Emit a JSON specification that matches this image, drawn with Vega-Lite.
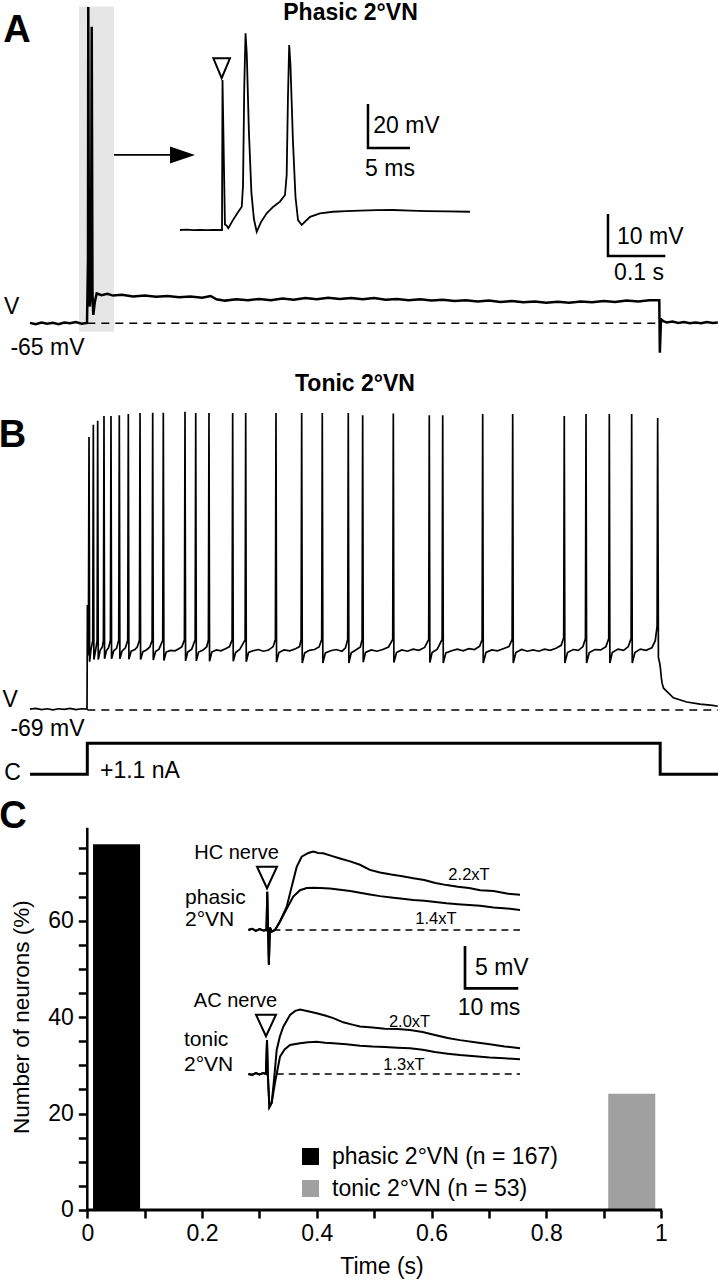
{
  "$schema": "https://vega.github.io/schema/vega-lite/v6.json",
  "width": 718,
  "height": 1280,
  "padding": 0,
  "autosize": {"type": "none"},
  "background": "white",
  "config": {"view": {"stroke": null}, "font": "Liberation Sans"},
  "resolve": {"scale": {"x": "independent", "y": "independent"}, "axis": {"x": "independent", "y": "independent"}},
  "datasets": {
    "aRect": [{"t": -0.0145, "t2": 0.0465, "v": -67.0, "v2": 10.4}],
    "aDash": [{"t": 0, "t2": 0.997, "v": -65}],
    "aTrace": [
      {"t": -0.0999, "v": -64.9}, {"t": -0.09, "v": -65.2}, {"t": -0.08, "v": -64.8}, {"t": -0.07, "v": -65.1}, {"t": -0.06, "v": -64.9}, {"t": -0.05, "v": -65.2}, {"t": -0.04, "v": -64.8}, {"t": -0.03, "v": -65.0}, {"t": -0.02, "v": -64.7}, {"t": -0.01, "v": -65.1}, {"t": -0.0005, "v": -64.9},
      {"t": 0.0003, "v": -58}, {"t": 0.0012, "v": -50}, {"t": 0.0017, "v": 10.3}, {"t": 0.003, "v": -59.5}, {"t": 0.0045, "v": -61.0}, {"t": 0.0065, "v": -56}, {"t": 0.0077, "v": 5.6}, {"t": 0.009, "v": -58}, {"t": 0.0105, "v": -63.0}, {"t": 0.013, "v": -60}, {"t": 0.0164, "v": -57.9},
      {"t": 0.025, "v": -58.3}, {"t": 0.035, "v": -58.0}, {"t": 0.045, "v": -58.4}, {"t": 0.06, "v": -58.2}, {"t": 0.08, "v": -58.6}, {"t": 0.1, "v": -58.4}, {"t": 0.12, "v": -58.7}, {"t": 0.14, "v": -58.5}, {"t": 0.16, "v": -58.8}, {"t": 0.18, "v": -58.6}, {"t": 0.2, "v": -58.9}, {"t": 0.215, "v": -58.5}, {"t": 0.225, "v": -59.3}, {"t": 0.24, "v": -59.6}, {"t": 0.26, "v": -59.3}, {"t": 0.28, "v": -59.5}, {"t": 0.3, "v": -59.2}, {"t": 0.32, "v": -59.5}, {"t": 0.34, "v": -59.1}, {"t": 0.36, "v": -59.4}, {"t": 0.38, "v": -59.0}, {"t": 0.4, "v": -59.3}, {"t": 0.42, "v": -58.9}, {"t": 0.44, "v": -59.2}, {"t": 0.46, "v": -59.0}, {"t": 0.48, "v": -59.3}, {"t": 0.5, "v": -59.0}, {"t": 0.52, "v": -59.4}, {"t": 0.54, "v": -59.2}, {"t": 0.56, "v": -59.5}, {"t": 0.58, "v": -59.3}, {"t": 0.6, "v": -59.6}, {"t": 0.62, "v": -59.4}, {"t": 0.64, "v": -59.7}, {"t": 0.66, "v": -59.5}, {"t": 0.68, "v": -59.8}, {"t": 0.7, "v": -59.6}, {"t": 0.72, "v": -59.9}, {"t": 0.74, "v": -59.7}, {"t": 0.76, "v": -60.0}, {"t": 0.78, "v": -59.8}, {"t": 0.8, "v": -60.1}, {"t": 0.82, "v": -59.9}, {"t": 0.84, "v": -60.1}, {"t": 0.86, "v": -59.8}, {"t": 0.88, "v": -60.0}, {"t": 0.9, "v": -59.7}, {"t": 0.92, "v": -59.9}, {"t": 0.94, "v": -59.6}, {"t": 0.96, "v": -59.8}, {"t": 0.98, "v": -59.5}, {"t": 0.997, "v": -59.5},
      {"t": 0.998, "v": -72.0}, {"t": 1.0, "v": -64.0}, {"t": 1.004, "v": -64.5}, {"t": 1.01, "v": -64.8}, {"t": 1.02, "v": -64.6}, {"t": 1.03, "v": -64.9}, {"t": 1.04, "v": -64.7}, {"t": 1.05, "v": -65.0}, {"t": 1.06, "v": -64.8}, {"t": 1.07, "v": -65.0}, {"t": 1.08, "v": -64.7}, {"t": 1.09, "v": -64.9}, {"t": 1.099, "v": -64.8}
    ],
    "aArrow": [{"t": 0.0465, "t2": 0.152, "v": -24.9}],
    "aHead": [{"t": 0.1659, "v": -24.9}],
    "aBar": [{"t": 0.9076, "v": -38.98}, {"t": 0.9076, "v": -48.98}, {"t": 1.0076, "v": -48.98}],
    "aTitle": [{"t": 0.4588, "v": 8.9, "label": "Phasic 2°VN"}],
    "aLetter": [{"t": -0.1225, "v": 4.5, "label": "A"}],
    "aTextC": [{"t": -0.1318, "v": -61.1, "label": "V"}, {"t": -0.0694, "v": -70.8, "label": "-65 mV"}, {"t": 0.9617, "v": -53.1, "label": "0.1 s"}],
    "aTextL": [{"t": 0.9233, "v": -44.4, "label": "10 mV"}],
    "aiTrace": [
      {"t": -5.0, "v": -65.0}, {"t": -4.2, "v": -64.8}, {"t": -3.4, "v": -65.1}, {"t": -2.6, "v": -64.9}, {"t": -1.8, "v": -65.1}, {"t": -1.0, "v": -64.9}, {"t": -0.3, "v": -65.0}, {"t": 0.0, "v": -65.0},
      {"t": 0.06, "v": 3.2}, {"t": 0.35, "v": -62.5}, {"t": 0.56, "v": -63.0}, {"t": 0.75, "v": -64.2}, {"t": 1.3, "v": -60.5}, {"t": 1.94, "v": -56.7}, {"t": 2.35, "v": -54.4},
      {"t": 2.5, "v": -45}, {"t": 2.65, "v": 0}, {"t": 2.8, "v": 24.4}, {"t": 2.95, "v": 15}, {"t": 3.2, "v": -20}, {"t": 3.5, "v": -48}, {"t": 3.8, "v": -60}, {"t": 4.13, "v": -65.8},
      {"t": 4.64, "v": -61.4}, {"t": 5.32, "v": -57.4}, {"t": 6.11, "v": -54.4}, {"t": 6.9, "v": -52.1}, {"t": 7.5, "v": -49.1},
      {"t": 7.7, "v": -40}, {"t": 7.85, "v": -5}, {"t": 8.0, "v": 19.1}, {"t": 8.15, "v": 10}, {"t": 8.45, "v": -25}, {"t": 8.75, "v": -50}, {"t": 9.05, "v": -60.5}, {"t": 9.49, "v": -62.7},
      {"t": 10.48, "v": -59.0}, {"t": 11.67, "v": -57.4}, {"t": 13.21, "v": -56.7}, {"t": 14.8, "v": -56.4}, {"t": 16.43, "v": -56.2}, {"t": 18.4, "v": -56.0}, {"t": 20.36, "v": -55.9}, {"t": 22.4, "v": -56.2}, {"t": 24.4, "v": -56.4}, {"t": 26.9, "v": -56.5}, {"t": 29.52, "v": -56.7}
    ],
    "aiTri": [{"t": -0.04, "v": 8.5}],
    "aiBar": [{"t": 17.38, "v": -7.7}, {"t": 17.38, "v": -27.7}, {"t": 22.38, "v": -27.7}],
    "aiTextL": [{"t": 18.0, "v": -17.7, "label": "20 mV"}],
    "aiTextC": [{"t": 20.0, "v": -37.05, "label": "5 ms"}],
    "bDash": [{"t": 0, "t2": 1.0993, "v": -69}],
    "bTrace": [
      {"t": -0.0999, "v": -68.8}, {"t": -0.09, "v": -68.6}, {"t": -0.08, "v": -68.9}, {"t": -0.07, "v": -68.7}, {"t": -0.06, "v": -68.95}, {"t": -0.05, "v": -68.7}, {"t": -0.04, "v": -68.85}, {"t": -0.03, "v": -68.6}, {"t": -0.02, "v": -68.9}, {"t": -0.01, "v": -68.7}, {"t": -0.0005, "v": -68.8},
      {"t": 0.0002, "v": -44}, {"t": 0.001, "v": -56}, {"t": 0.002, "v": -50}, {"t": 0.003, "v": -4.0}, {"t": 0.004, "v": -57.5}, {"t": 0.0065, "v": -54.5}, {"t": 0.0095, "v": -52.5}, {"t": 0.0105, "v": -1.1}, {"t": 0.0115, "v": -57.0}, {"t": 0.0145, "v": -54.8}, {"t": 0.0171, "v": -52.5}, {"t": 0.0181, "v": -0.1}, {"t": 0.0191, "v": -57.0}, {"t": 0.0225, "v": -54.8}, {"t": 0.0262, "v": -54.0}, {"t": 0.0281, "v": -52.4}, {"t": 0.0291, "v": 1.0}, {"t": 0.0301, "v": -56.8}, {"t": 0.0335, "v": -54.8}, {"t": 0.037, "v": -54.2}, {"t": 0.0403, "v": -52.4}, {"t": 0.0413, "v": 1.0}, {"t": 0.0423, "v": -56.8}, {"t": 0.046, "v": -54.9}, {"t": 0.051, "v": -54.3}, {"t": 0.0548, "v": -52.4}, {"t": 0.0558, "v": 1.2}, {"t": 0.0568, "v": -56.8}, {"t": 0.0605, "v": -55.0}, {"t": 0.0665, "v": -54.2}, {"t": 0.0705, "v": -52.4}, {"t": 0.0715, "v": 1.5}, {"t": 0.0725, "v": -56.9}, {"t": 0.0765, "v": -55.0}, {"t": 0.083, "v": -54.6}, {"t": 0.087, "v": -54.0}, {"t": 0.0909, "v": -52.4}, {"t": 0.0919, "v": 1.7}, {"t": 0.0929, "v": -57.0}, {"t": 0.097, "v": -55.1}, {"t": 0.103, "v": -54.7}, {"t": 0.109, "v": -54.0}, {"t": 0.113, "v": -52.4}, {"t": 0.114, "v": 1.8}, {"t": 0.115, "v": -57.1}, {"t": 0.119, "v": -55.1}, {"t": 0.125, "v": -54.5}, {"t": 0.1315, "v": -52.4}, {"t": 0.1325, "v": 1.8}, {"t": 0.1335, "v": -57.2}, {"t": 0.1375, "v": -55.2}, {"t": 0.145, "v": -54.8}, {"t": 0.153, "v": -54.9}, {"t": 0.161, "v": -54.3}, {"t": 0.165, "v": -53.9}, {"t": 0.1693, "v": -52.3}, {"t": 0.1703, "v": 2.0}, {"t": 0.1713, "v": -57.3}, {"t": 0.175, "v": -55.2}, {"t": 0.182, "v": -54.5}, {"t": 0.188, "v": -52.3}, {"t": 0.189, "v": 1.7}, {"t": 0.19, "v": -57.3}, {"t": 0.194, "v": -55.2}, {"t": 0.201, "v": -54.8}, {"t": 0.208, "v": -54.0}, {"t": 0.2111, "v": -52.3}, {"t": 0.2121, "v": 1.7}, {"t": 0.2131, "v": -57.4}, {"t": 0.217, "v": -55.2}, {"t": 0.225, "v": -54.7}, {"t": 0.233, "v": -54.9}, {"t": 0.241, "v": -54.4}, {"t": 0.248, "v": -53.9}, {"t": 0.2524, "v": -52.3}, {"t": 0.2534, "v": 1.7}, {"t": 0.2544, "v": -57.4}, {"t": 0.2585, "v": -55.3}, {"t": 0.266, "v": -54.5}, {"t": 0.2751, "v": -52.3}, {"t": 0.2761, "v": 1.7}, {"t": 0.2771, "v": -57.5}, {"t": 0.281, "v": -55.3}, {"t": 0.289, "v": -54.9}, {"t": 0.298, "v": -54.6}, {"t": 0.307, "v": -55.0}, {"t": 0.316, "v": -54.7}, {"t": 0.324, "v": -53.9}, {"t": 0.3279, "v": -52.2}, {"t": 0.3289, "v": 1.7}, {"t": 0.3299, "v": -57.6}, {"t": 0.334, "v": -55.3}, {"t": 0.343, "v": -54.7}, {"t": 0.353, "v": -54.9}, {"t": 0.363, "v": -54.4}, {"t": 0.37, "v": -53.9}, {"t": 0.3727, "v": -52.2}, {"t": 0.3737, "v": 1.7}, {"t": 0.3747, "v": -57.8}, {"t": 0.379, "v": -55.4}, {"t": 0.387, "v": -54.8}, {"t": 0.396, "v": -54.6}, {"t": 0.404, "v": -54.0}, {"t": 0.4086, "v": -52.2}, {"t": 0.4096, "v": 1.7}, {"t": 0.4106, "v": -57.8}, {"t": 0.415, "v": -55.4}, {"t": 0.424, "v": -54.9}, {"t": 0.434, "v": -54.6}, {"t": 0.444, "v": -55.0}, {"t": 0.45, "v": -54.2}, {"t": 0.4539, "v": -52.2}, {"t": 0.4549, "v": 1.7}, {"t": 0.4559, "v": -57.8}, {"t": 0.46, "v": -55.4}, {"t": 0.468, "v": -54.7}, {"t": 0.476, "v": -54.0}, {"t": 0.479, "v": -52.2}, {"t": 0.48, "v": 1.2}, {"t": 0.481, "v": -57.6}, {"t": 0.485, "v": -55.3}, {"t": 0.495, "v": -54.7}, {"t": 0.505, "v": -55.0}, {"t": 0.515, "v": -54.6}, {"t": 0.525, "v": -54.0}, {"t": 0.5324, "v": -52.2}, {"t": 0.5334, "v": 1.6}, {"t": 0.5344, "v": -57.7}, {"t": 0.539, "v": -55.3}, {"t": 0.548, "v": -54.7}, {"t": 0.558, "v": -55.0}, {"t": 0.568, "v": -54.5}, {"t": 0.578, "v": -54.8}, {"t": 0.588, "v": -54.1}, {"t": 0.5951, "v": -52.2}, {"t": 0.5961, "v": 1.2}, {"t": 0.5971, "v": -57.7}, {"t": 0.601, "v": -55.3}, {"t": 0.61, "v": -54.5}, {"t": 0.6185, "v": -52.2}, {"t": 0.6195, "v": 1.2}, {"t": 0.6205, "v": -57.8}, {"t": 0.625, "v": -55.4}, {"t": 0.635, "v": -54.9}, {"t": 0.645, "v": -54.5}, {"t": 0.655, "v": -54.9}, {"t": 0.665, "v": -54.4}, {"t": 0.675, "v": -54.6}, {"t": 0.684, "v": -53.8}, {"t": 0.6882, "v": -52.2}, {"t": 0.6892, "v": 1.5}, {"t": 0.6902, "v": -57.8}, {"t": 0.695, "v": -55.3}, {"t": 0.705, "v": -54.7}, {"t": 0.715, "v": -54.9}, {"t": 0.725, "v": -54.4}, {"t": 0.735, "v": -53.9}, {"t": 0.7405, "v": -52.2}, {"t": 0.7415, "v": 1.5}, {"t": 0.7425, "v": -57.8}, {"t": 0.747, "v": -55.3}, {"t": 0.757, "v": -54.6}, {"t": 0.767, "v": -55.0}, {"t": 0.777, "v": -54.7}, {"t": 0.787, "v": -55.0}, {"t": 0.797, "v": -54.5}, {"t": 0.807, "v": -54.8}, {"t": 0.817, "v": -54.3}, {"t": 0.826, "v": -53.6}, {"t": 0.8304, "v": -51.8}, {"t": 0.8314, "v": 1.0}, {"t": 0.8324, "v": -57.8}, {"t": 0.837, "v": -55.3}, {"t": 0.847, "v": -54.6}, {"t": 0.856, "v": -54.8}, {"t": 0.864, "v": -53.9}, {"t": 0.8683, "v": -52.0}, {"t": 0.8693, "v": 1.5}, {"t": 0.8703, "v": -57.8}, {"t": 0.875, "v": -55.3}, {"t": 0.885, "v": -54.6}, {"t": 0.895, "v": -54.7}, {"t": 0.904, "v": -53.9}, {"t": 0.9089, "v": -52.0}, {"t": 0.9099, "v": 1.5}, {"t": 0.9109, "v": -57.8}, {"t": 0.915, "v": -55.3}, {"t": 0.925, "v": -54.5}, {"t": 0.935, "v": -54.8}, {"t": 0.943, "v": -53.9}, {"t": 0.9479, "v": -52.0}, {"t": 0.9489, "v": 1.5}, {"t": 0.9499, "v": -57.8}, {"t": 0.9545, "v": -55.3}, {"t": 0.964, "v": -54.5}, {"t": 0.974, "v": -54.8}, {"t": 0.984, "v": -54.2}, {"t": 0.99, "v": -52.5}, {"t": 0.9932, "v": -49.0}, {"t": 0.9942, "v": 0.5}, {"t": 0.9955, "v": -56.5}, {"t": 0.9977, "v": -57.8}, {"t": 0.999, "v": -59.0}, {"t": 1.0005, "v": -61.2}, {"t": 1.0019, "v": -62.6}, {"t": 1.0045, "v": -63.8}, {"t": 1.0106, "v": -64.6}, {"t": 1.0216, "v": -66.1}, {"t": 1.0448, "v": -67.1}, {"t": 1.068, "v": -67.6}, {"t": 1.09, "v": -67.9}, {"t": 1.099, "v": -68.1}
    ],
    "bTitle": [{"t": 0.4666, "v": 8.57, "label": "Tonic 2°VN"}],
    "bLetter": [{"t": -0.1304, "v": -3.8, "label": "B"}],
    "bTextC": [{"t": -0.1343, "v": -66.6, "label": "V"}, {"t": -0.0694, "v": -73.5, "label": "-69 mV"}],
    "cTrace": [{"t": -0.0999, "v": 0}, {"t": 0, "v": 0}, {"t": 0, "v": 1.1}, {"t": 0.9986, "v": 1.1}, {"t": 0.9986, "v": 0}, {"t": 1.0993, "v": 0}],
    "cTextC": [{"t": -0.1304, "v": 0.064, "label": "C"}],
    "cTextL": [{"t": 0.0221, "v": 0.135, "label": "+1.1 nA"}],
    "bars": [
      {"t": 0.01, "t2": 0.092, "v": 75.9, "type": "phasic 2°VN (n = 167)"},
      {"t": 0.908, "t2": 0.99, "v": 24.1, "type": "tonic 2°VN (n = 53)"}
    ],
    "xLine": [{"t": -0.002, "t2": 1.002, "v": 0}],
    "yLine": [{"t": 0, "v": -0.3, "v2": 79.3}],
    "cLetter": [{"t": -0.1295, "v": 81.6, "label": "C"}],
    "xTitle": [{"t": 0.5137, "v": -11.8, "label": "Time (s)"}],
    "yTitle": [{"t": -0.1138, "v": 40.0, "label": "Number of neurons (%)"}],
    "hcTrace": [
      {"s": "2.2xT", "t": -3.5, "v": 0.0}, {"s": "2.2xT", "t": -2.8, "v": 0.15}, {"s": "2.2xT", "t": -2.1, "v": -0.1}, {"s": "2.2xT", "t": -1.4, "v": 0.1}, {"s": "2.2xT", "t": -0.7, "v": -0.05}, {"s": "2.2xT", "t": -0.1, "v": 0}, {"s": "2.2xT", "t": 0.05, "v": 4.5}, {"s": "2.2xT", "t": 0.2, "v": 0}, {"s": "2.2xT", "t": 0.35, "v": -4.1}, {"s": "2.2xT", "t": 0.55, "v": 0.3}, {"s": "2.2xT", "t": 0.9, "v": -0.2}, {"s": "2.2xT", "t": 1.5, "v": 0.0}, {"s": "2.2xT", "t": 2.44, "v": 1.0}, {"s": "2.2xT", "t": 3.7, "v": 2.75}, {"s": "2.2xT", "t": 4.63, "v": 5.1}, {"s": "2.2xT", "t": 5.57, "v": 7.45}, {"s": "2.2xT", "t": 6.51, "v": 8.65}, {"s": "2.2xT", "t": 7.75, "v": 9.1}, {"s": "2.2xT", "t": 8.69, "v": 9.25}, {"s": "2.2xT", "t": 9.6, "v": 9.1}, {"s": "2.2xT", "t": 10.56, "v": 9.05}, {"s": "2.2xT", "t": 12.1, "v": 8.75}, {"s": "2.2xT", "t": 13.7, "v": 8.45}, {"s": "2.2xT", "t": 15.6, "v": 8.1}, {"s": "2.2xT", "t": 17.45, "v": 7.7}, {"s": "2.2xT", "t": 19.3, "v": 7.1}, {"s": "2.2xT", "t": 21.2, "v": 6.8}, {"s": "2.2xT", "t": 23.3, "v": 6.55}, {"s": "2.2xT", "t": 25.4, "v": 6.35}, {"s": "2.2xT", "t": 27.45, "v": 6.1}, {"s": "2.2xT", "t": 29.5, "v": 5.9}, {"s": "2.2xT", "t": 31.6, "v": 5.55}, {"s": "2.2xT", "t": 33.7, "v": 5.3}, {"s": "2.2xT", "t": 35.8, "v": 5.1}, {"s": "2.2xT", "t": 37.9, "v": 4.95}, {"s": "2.2xT", "t": 40.0, "v": 4.7}, {"s": "2.2xT", "t": 42.5, "v": 4.6}, {"s": "2.2xT", "t": 45.0, "v": 4.3}, {"s": "2.2xT", "t": 47.47, "v": 4.15},
      {"s": "1.4xT", "t": -3.5, "v": 0.0}, {"s": "1.4xT", "t": -2.8, "v": 0.15}, {"s": "1.4xT", "t": -2.1, "v": -0.1}, {"s": "1.4xT", "t": -1.4, "v": 0.1}, {"s": "1.4xT", "t": -0.7, "v": -0.05}, {"s": "1.4xT", "t": -0.1, "v": 0}, {"s": "1.4xT", "t": 0.05, "v": 4.5}, {"s": "1.4xT", "t": 0.2, "v": 0}, {"s": "1.4xT", "t": 0.35, "v": -4.1}, {"s": "1.4xT", "t": 0.55, "v": 0.3}, {"s": "1.4xT", "t": 0.9, "v": -0.2}, {"s": "1.4xT", "t": 1.5, "v": 0.0}, {"s": "1.4xT", "t": 2.44, "v": 1.0}, {"s": "1.4xT", "t": 3.7, "v": 2.5}, {"s": "1.4xT", "t": 4.93, "v": 3.95}, {"s": "1.4xT", "t": 6.19, "v": 4.7}, {"s": "1.4xT", "t": 7.45, "v": 4.95}, {"s": "1.4xT", "t": 8.7, "v": 5.0}, {"s": "1.4xT", "t": 9.94, "v": 4.95}, {"s": "1.4xT", "t": 11.8, "v": 4.9}, {"s": "1.4xT", "t": 13.7, "v": 4.75}, {"s": "1.4xT", "t": 15.6, "v": 4.6}, {"s": "1.4xT", "t": 17.45, "v": 4.4}, {"s": "1.4xT", "t": 19.3, "v": 4.2}, {"s": "1.4xT", "t": 21.2, "v": 4.0}, {"s": "1.4xT", "t": 23.3, "v": 3.85}, {"s": "1.4xT", "t": 25.4, "v": 3.7}, {"s": "1.4xT", "t": 27.45, "v": 3.55}, {"s": "1.4xT", "t": 29.5, "v": 3.45}, {"s": "1.4xT", "t": 31.6, "v": 3.3}, {"s": "1.4xT", "t": 33.7, "v": 3.15}, {"s": "1.4xT", "t": 35.8, "v": 3.05}, {"s": "1.4xT", "t": 37.9, "v": 2.95}, {"s": "1.4xT", "t": 40.0, "v": 2.85}, {"s": "1.4xT", "t": 42.5, "v": 2.65}, {"s": "1.4xT", "t": 45.0, "v": 2.55}, {"s": "1.4xT", "t": 47.47, "v": 2.35}
    ],
    "hcDash": [{"t": 1.2, "t2": 47.47, "v": 0}],
    "hcTri": [{"t": 0, "v": 6.2}],
    "hcBar": [{"t": 37.15, "v": -1.89}, {"t": 37.15, "v": -6.88}, {"t": 47.15, "v": -6.88}],
    "hcName": [{"t": -5.72, "v": 9.06, "label": "HC nerve"}],
    "hcCell": [{"t": -15.38, "v": 3.78, "label": "phasic"}, {"t": -15.38, "v": 1.18, "label": "2°VN"}],
    "hcStim": [{"t": 37.9, "v": 6.49, "label": "2.2xT"}, {"t": 31.7, "v": 1.3, "label": "1.4xT"}],
    "hcScaleL": [{"t": 39.02, "v": -4.49, "label": "5 mV"}],
    "hcScaleC": [{"t": 41.65, "v": -9.21, "label": "10 ms"}],
    "acTrace": [
      {"s": "2.0xT", "t": -3.5, "v": 0.0}, {"s": "2.0xT", "t": -2.8, "v": -0.1}, {"s": "2.0xT", "t": -2.1, "v": 0.1}, {"s": "2.0xT", "t": -1.4, "v": -0.05}, {"s": "2.0xT", "t": -0.7, "v": 0.1}, {"s": "2.0xT", "t": -0.2, "v": 0}, {"s": "2.0xT", "t": 0.0, "v": 4.0}, {"s": "2.0xT", "t": 0.15, "v": 0}, {"s": "2.0xT", "t": 0.45, "v": -3.9}, {"s": "2.0xT", "t": 0.88, "v": -3.4}, {"s": "2.0xT", "t": 1.3, "v": -0.8}, {"s": "2.0xT", "t": 1.82, "v": 2.83}, {"s": "2.0xT", "t": 2.4, "v": 4.4}, {"s": "2.0xT", "t": 3.06, "v": 5.58}, {"s": "2.0xT", "t": 4.32, "v": 6.97}, {"s": "2.0xT", "t": 5.3, "v": 7.45}, {"s": "2.0xT", "t": 6.19, "v": 7.6}, {"s": "2.0xT", "t": 7.7, "v": 7.4}, {"s": "2.0xT", "t": 9.32, "v": 7.17}, {"s": "2.0xT", "t": 10.9, "v": 6.9}, {"s": "2.0xT", "t": 12.44, "v": 6.6}, {"s": "2.0xT", "t": 14.3, "v": 6.1}, {"s": "2.0xT", "t": 16.19, "v": 5.8}, {"s": "2.0xT", "t": 17.45, "v": 5.6}, {"s": "2.0xT", "t": 19.8, "v": 5.5}, {"s": "2.0xT", "t": 22.1, "v": 5.35}, {"s": "2.0xT", "t": 24.5, "v": 5.3}, {"s": "2.0xT", "t": 26.83, "v": 5.2}, {"s": "2.0xT", "t": 29.2, "v": 4.95}, {"s": "2.0xT", "t": 31.5, "v": 4.6}, {"s": "2.0xT", "t": 33.9, "v": 4.25}, {"s": "2.0xT", "t": 36.21, "v": 4.0}, {"s": "2.0xT", "t": 39.0, "v": 3.75}, {"s": "2.0xT", "t": 41.8, "v": 3.5}, {"s": "2.0xT", "t": 44.6, "v": 3.25}, {"s": "2.0xT", "t": 47.47, "v": 3.05},
      {"s": "1.3xT", "t": -3.5, "v": 0.0}, {"s": "1.3xT", "t": -2.8, "v": -0.1}, {"s": "1.3xT", "t": -2.1, "v": 0.1}, {"s": "1.3xT", "t": -1.4, "v": -0.05}, {"s": "1.3xT", "t": -0.7, "v": 0.1}, {"s": "1.3xT", "t": -0.2, "v": 0}, {"s": "1.3xT", "t": 0.0, "v": 4.0}, {"s": "1.3xT", "t": 0.15, "v": 0}, {"s": "1.3xT", "t": 0.45, "v": -3.9}, {"s": "1.3xT", "t": 0.88, "v": -3.4}, {"s": "1.3xT", "t": 1.5, "v": -1.0}, {"s": "1.3xT", "t": 2.44, "v": 2.04}, {"s": "1.3xT", "t": 3.3, "v": 2.9}, {"s": "1.3xT", "t": 4.32, "v": 3.42}, {"s": "1.3xT", "t": 6.19, "v": 3.62}, {"s": "1.3xT", "t": 7.7, "v": 3.75}, {"s": "1.3xT", "t": 9.32, "v": 3.81}, {"s": "1.3xT", "t": 10.9, "v": 3.7}, {"s": "1.3xT", "t": 12.44, "v": 3.62}, {"s": "1.3xT", "t": 14.9, "v": 3.5}, {"s": "1.3xT", "t": 17.45, "v": 3.34}, {"s": "1.3xT", "t": 19.8, "v": 3.25}, {"s": "1.3xT", "t": 22.1, "v": 3.2}, {"s": "1.3xT", "t": 24.5, "v": 3.1}, {"s": "1.3xT", "t": 26.83, "v": 3.03}, {"s": "1.3xT", "t": 29.2, "v": 2.85}, {"s": "1.3xT", "t": 31.5, "v": 2.6}, {"s": "1.3xT", "t": 33.9, "v": 2.4}, {"s": "1.3xT", "t": 36.21, "v": 2.24}, {"s": "1.3xT", "t": 39.0, "v": 2.1}, {"s": "1.3xT", "t": 41.8, "v": 1.95}, {"s": "1.3xT", "t": 44.6, "v": 1.85}, {"s": "1.3xT", "t": 47.47, "v": 1.74}
    ],
    "acDash": [{"t": 1.82, "t2": 47.47, "v": 0}],
    "acTri": [{"t": -0.19, "v": 5.73}],
    "acName": [{"t": -5.91, "v": 8.65, "label": "AC nerve"}],
    "acCell": [{"t": -15.57, "v": 4.01, "label": "tonic"}, {"t": -15.57, "v": 1.06, "label": "2°VN"}],
    "acStim": [{"t": 26.74, "v": 6.17, "label": "2.0xT"}, {"t": 25.7, "v": 1.06, "label": "1.3xT"}]
  },
  "layer": [
    {
      "encoding": {
        "x": {"field": "t", "type": "quantitative", "scale": {"domain": [-0.15217, 1.09936], "nice": false, "zero": false}, "axis": null},
        "y": {"field": "v", "type": "quantitative", "scale": {"domain": [-292.79, 11.976], "nice": false, "zero": false}, "axis": null}
      },
      "layer": [
        {"data": {"name": "aRect"}, "mark": {"type": "rect", "color": "#e6e6e6"}, "encoding": {"x2": {"field": "t2"}, "y2": {"field": "v2"}}},
        {"data": {"name": "aDash"}, "mark": {"type": "rule", "color": "black", "strokeWidth": 1.5, "strokeDash": [8, 6]}, "encoding": {"x2": {"field": "t2"}}},
        {"data": {"name": "aTrace"}, "mark": {"type": "line", "color": "black", "strokeWidth": 2.5}, "encoding": {"order": {"value": null}}},
        {"data": {"name": "aArrow"}, "mark": {"type": "rule", "color": "black", "strokeWidth": 1.6}, "encoding": {"x2": {"field": "t2"}}},
        {"data": {"name": "aHead"}, "mark": {"type": "point", "shape": "M -1 -0.68 L 1 0 L -1 0.68 Z", "size": 625, "filled": true, "color": "black", "opacity": 1}},
        {"data": {"name": "aBar"}, "mark": {"type": "line", "color": "black", "strokeWidth": 2.5}, "encoding": {"order": {"value": null}}},
        {"data": {"name": "aTitle"}, "mark": {"type": "text", "font": "Liberation Sans", "fontSize": 23, "fontWeight": "bold", "align": "center", "baseline": "middle", "color": "black"}, "encoding": {"text": {"field": "label"}}},
        {"data": {"name": "aLetter"}, "mark": {"type": "text", "font": "Liberation Sans", "fontSize": 38, "fontWeight": "bold", "align": "center", "baseline": "middle", "color": "black"}, "encoding": {"text": {"field": "label"}}},
        {"data": {"name": "aTextC"}, "mark": {"type": "text", "font": "Liberation Sans", "fontSize": 23, "align": "center", "baseline": "middle", "color": "black"}, "encoding": {"text": {"field": "label"}}},
        {"data": {"name": "aTextL"}, "mark": {"type": "text", "font": "Liberation Sans", "fontSize": 23, "align": "left", "baseline": "middle", "color": "black"}, "encoding": {"text": {"field": "label"}}}
      ]
    },
    {
      "encoding": {
        "x": {"field": "t", "type": "quantitative", "scale": {"domain": [-26.43, 59.05], "nice": false, "zero": false}, "axis": null},
        "y": {"field": "v", "type": "quantitative", "scale": {"domain": [-542.27, 39.545], "nice": false, "zero": false}, "axis": null}
      },
      "layer": [
        {"data": {"name": "aiTrace"}, "mark": {"type": "line", "color": "black", "strokeWidth": 1.8}, "encoding": {"order": {"value": null}}},
        {"data": {"name": "aiTri"}, "mark": {"type": "point", "shape": "M -1 -1.2 L 1 -1.2 L 0 1.2 Z", "size": 275, "filled": true, "fill": "white", "stroke": "black", "strokeWidth": 2, "opacity": 1}},
        {"data": {"name": "aiBar"}, "mark": {"type": "line", "color": "black", "strokeWidth": 2.5}, "encoding": {"order": {"value": null}}},
        {"data": {"name": "aiTextL"}, "mark": {"type": "text", "font": "Liberation Sans", "fontSize": 23, "align": "left", "baseline": "middle", "color": "black"}, "encoding": {"text": {"field": "label"}}},
        {"data": {"name": "aiTextC"}, "mark": {"type": "text", "font": "Liberation Sans", "fontSize": 23, "align": "center", "baseline": "middle", "color": "black"}, "encoding": {"text": {"field": "label"}}}
      ]
    },
    {
      "encoding": {
        "x": {"field": "t", "type": "quantitative", "scale": {"domain": [-0.15217, 1.09936], "nice": false, "zero": false}, "axis": null},
        "y": {"field": "v", "type": "quantitative", "scale": {"domain": [-204.71, 100.05], "nice": false, "zero": false}, "axis": null}
      },
      "layer": [
        {"data": {"name": "bDash"}, "mark": {"type": "rule", "color": "black", "strokeWidth": 1.5, "strokeDash": [8, 6]}, "encoding": {"x2": {"field": "t2"}}},
        {"data": {"name": "bTrace"}, "mark": {"type": "line", "color": "black", "strokeWidth": 1.7}, "encoding": {"order": {"value": null}}},
        {"data": {"name": "bTitle"}, "mark": {"type": "text", "font": "Liberation Sans", "fontSize": 23, "fontWeight": "bold", "align": "center", "baseline": "middle", "color": "black"}, "encoding": {"text": {"field": "label"}}},
        {"data": {"name": "bLetter"}, "mark": {"type": "text", "font": "Liberation Sans", "fontSize": 38, "fontWeight": "bold", "align": "center", "baseline": "middle", "color": "black"}, "encoding": {"text": {"field": "label"}}},
        {"data": {"name": "bTextC"}, "mark": {"type": "text", "font": "Liberation Sans", "fontSize": 23, "align": "center", "baseline": "middle", "color": "black"}, "encoding": {"text": {"field": "label"}}}
      ]
    },
    {
      "encoding": {
        "x": {"field": "t", "type": "quantitative", "scale": {"domain": [-0.15217, 1.09936], "nice": false, "zero": false}, "axis": null},
        "y": {"field": "v", "type": "quantitative", "scale": {"domain": [-17.945, 27.477], "nice": false, "zero": false}, "axis": null}
      },
      "layer": [
        {"data": {"name": "cTrace"}, "mark": {"type": "line", "color": "black", "strokeWidth": 3, "strokeJoin": "miter"}, "encoding": {"order": {"value": null}}},
        {"data": {"name": "cTextC"}, "mark": {"type": "text", "font": "Liberation Sans", "fontSize": 23, "align": "center", "baseline": "middle", "color": "black"}, "encoding": {"text": {"field": "label"}}},
        {"data": {"name": "cTextL"}, "mark": {"type": "text", "font": "Liberation Sans", "fontSize": 23, "align": "left", "baseline": "middle", "color": "black"}, "encoding": {"text": {"field": "label"}}}
      ]
    },
    {
      "encoding": {
        "x": {"field": "t", "type": "quantitative", "scale": {"domain": [-0.15217, 1.09936], "nice": false, "zero": false},
          "axis": {"orient": "bottom", "offset": -70, "values": [0, 0.1, 0.2, 0.3, 0.4, 0.5, 0.6, 0.7, 0.8, 0.9, 1], "format": "~g", "labelExpr": "round(datum.value * 10) % 2 === 0 ? datum.label : ''", "domain": false, "grid": false, "tickSize": 8, "tickWidth": 2.5, "tickColor": "black", "labelFont": "Liberation Sans", "labelFontSize": 23, "labelColor": "black", "labelPadding": 4, "labelFlush": false, "labelOverlap": false, "title": null}},
        "y": {"field": "v", "type": "quantitative", "scale": {"domain": [-14.523, 251.037], "nice": false, "zero": false},
          "axis": {"orient": "left", "offset": -87.3, "values": [0, 5, 10, 15, 20, 25, 30, 35, 40, 45, 50, 55, 60, 65, 70, 75], "format": "d", "labelExpr": "datum.value % 20 === 0 ? datum.label : ''", "domain": false, "grid": false, "tickSize": 9, "tickWidth": 2.5, "tickColor": "black", "labelFont": "Liberation Sans", "labelFontSize": 23, "labelColor": "black", "labelPadding": 5, "labelFlush": false, "labelOverlap": false, "title": null}}
      },
      "layer": [
        {"data": {"name": "bars"}, "mark": {"type": "bar", "opacity": 1},
          "encoding": {"x2": {"field": "t2"}, "y2": {"datum": 0},
            "color": {"field": "type", "type": "nominal", "scale": {"domain": ["phasic 2°VN (n = 167)", "tonic 2°VN (n = 53)"], "range": ["#000000", "#a0a0a0"]},
              "legend": {"orient": "none", "legendX": 299, "legendY": 1145, "title": null, "symbolType": "square", "symbolSize": 289, "symbolStrokeWidth": 0, "symbolOpacity": 1, "labelFont": "Liberation Sans", "labelFontSize": 23, "labelColor": "black", "labelOffset": 10, "labelLimit": 400, "rowPadding": 8, "padding": 0}}}},
        {"data": {"name": "xLine"}, "mark": {"type": "rule", "color": "black", "strokeWidth": 3}, "encoding": {"x2": {"field": "t2"}}},
        {"data": {"name": "yLine"}, "mark": {"type": "rule", "color": "black", "strokeWidth": 2.5}, "encoding": {"y2": {"field": "v2"}}},
        {"data": {"name": "cLetter"}, "mark": {"type": "text", "font": "Liberation Sans", "fontSize": 38, "fontWeight": "bold", "align": "center", "baseline": "middle", "color": "black"}, "encoding": {"text": {"field": "label"}}},
        {"data": {"name": "xTitle"}, "mark": {"type": "text", "font": "Liberation Sans", "fontSize": 23, "align": "center", "baseline": "middle", "color": "black"}, "encoding": {"text": {"field": "label"}}},
        {"data": {"name": "yTitle"}, "mark": {"type": "text", "font": "Liberation Sans", "fontSize": 22.5, "angle": 270, "align": "center", "baseline": "middle", "color": "black"}, "encoding": {"text": {"field": "label"}}}
      ]
    },
    {
      "encoding": {
        "x": {"field": "t", "type": "quantitative", "scale": {"domain": [-50.094, 84.615], "nice": false, "zero": false}, "axis": null},
        "y": {"field": "v", "type": "quantitative", "scale": {"domain": [-41.322, 109.799], "nice": false, "zero": false}, "axis": null}
      },
      "layer": [
        {"data": {"name": "hcDash"}, "mark": {"type": "rule", "color": "black", "strokeWidth": 1.6, "strokeDash": [7, 5]}, "encoding": {"x2": {"field": "t2"}}},
        {"data": {"name": "hcTrace"}, "mark": {"type": "line", "color": "black", "strokeWidth": 2}, "encoding": {"detail": {"field": "s"}, "order": {"value": null}}},
        {"data": {"name": "hcTri"}, "mark": {"type": "point", "shape": "M -1 -1.08 L 1 -1.08 L 0 1.08 Z", "size": 400, "filled": true, "fill": "white", "stroke": "black", "strokeWidth": 2, "opacity": 1}},
        {"data": {"name": "hcBar"}, "mark": {"type": "line", "color": "black", "strokeWidth": 2.7}, "encoding": {"order": {"value": null}}},
        {"data": {"name": "hcName"}, "mark": {"type": "text", "font": "Liberation Sans", "fontSize": 20, "align": "center", "baseline": "middle", "color": "black"}, "encoding": {"text": {"field": "label"}}},
        {"data": {"name": "hcCell"}, "mark": {"type": "text", "font": "Liberation Sans", "fontSize": 21, "align": "left", "baseline": "middle", "color": "black"}, "encoding": {"text": {"field": "label"}}},
        {"data": {"name": "hcStim"}, "mark": {"type": "text", "font": "Liberation Sans", "fontSize": 16.5, "align": "center", "baseline": "middle", "color": "black"}, "encoding": {"text": {"field": "label"}}},
        {"data": {"name": "hcScaleL"}, "mark": {"type": "text", "font": "Liberation Sans", "fontSize": 23, "align": "left", "baseline": "middle", "color": "black"}, "encoding": {"text": {"field": "label"}}},
        {"data": {"name": "hcScaleC"}, "mark": {"type": "text", "font": "Liberation Sans", "fontSize": 23, "align": "center", "baseline": "middle", "color": "black"}, "encoding": {"text": {"field": "label"}}}
      ]
    },
    {
      "encoding": {
        "x": {"field": "t", "type": "quantitative", "scale": {"domain": [-50.094, 84.615], "nice": false, "zero": false}, "axis": null},
        "y": {"field": "v", "type": "quantitative", "scale": {"domain": [-24.321, 126.801], "nice": false, "zero": false}, "axis": null}
      },
      "layer": [
        {"data": {"name": "acDash"}, "mark": {"type": "rule", "color": "black", "strokeWidth": 1.6, "strokeDash": [7, 5]}, "encoding": {"x2": {"field": "t2"}}},
        {"data": {"name": "acTrace"}, "mark": {"type": "line", "color": "black", "strokeWidth": 2}, "encoding": {"detail": {"field": "s"}, "order": {"value": null}}},
        {"data": {"name": "acTri"}, "mark": {"type": "point", "shape": "M -1 -1.08 L 1 -1.08 L 0 1.08 Z", "size": 400, "filled": true, "fill": "white", "stroke": "black", "strokeWidth": 2, "opacity": 1}},
        {"data": {"name": "acName"}, "mark": {"type": "text", "font": "Liberation Sans", "fontSize": 20, "align": "center", "baseline": "middle", "color": "black"}, "encoding": {"text": {"field": "label"}}},
        {"data": {"name": "acCell"}, "mark": {"type": "text", "font": "Liberation Sans", "fontSize": 21, "align": "left", "baseline": "middle", "color": "black"}, "encoding": {"text": {"field": "label"}}},
        {"data": {"name": "acStim"}, "mark": {"type": "text", "font": "Liberation Sans", "fontSize": 16.5, "align": "center", "baseline": "middle", "color": "black"}, "encoding": {"text": {"field": "label"}}}
      ]
    }
  ]
}
